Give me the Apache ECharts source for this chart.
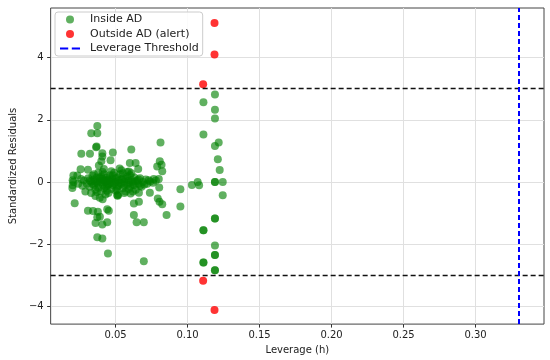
<!DOCTYPE html>
<html>
<head>
<meta charset="utf-8">
<script src="https://cdn.jsdelivr.net/npm/echarts@6/dist/echarts.min.js"></script>
<style>html,body{margin:0;padding:0;background:#fff}#c{width:550px;height:360px}</style>
</head>
<body>
<div id="c"></div>
<script>
// ---- data ----
const insideAD = [
  [0.0373,1.80],[0.0331,1.57],[0.0373,1.57],[0.0368,1.14],[0.0365,1.12],
  [0.0262,0.91],[0.0322,0.91],[0.0408,0.93],[0.0408,0.82],[0.0481,0.95],
  [0.0609,1.05],[0.0812,1.27],[0.0465,0.70],[0.0401,0.67],[0.0599,0.61],[0.0639,0.61],
  [0.0807,0.67],[0.0819,0.56],[0.0824,0.35],[0.0789,0.50],[0.0257,0.41],[0.0384,0.53],
  [0.0419,0.42],[0.0308,0.40],[0.0592,0.34],[0.0528,0.44],[0.0657,0.42],[0.0207,0.21],
  [0.0234,0.21],[0.0207,0.00],[0.0200,-0.19],[0.0202,-0.10],[0.0202,0.06],
  [0.0765,0.10],[0.0800,0.10],
  [0.0216,-0.68],[0.0308,-0.92],[0.0343,-0.93],[0.0377,-0.95],[0.0442,-0.87],[0.0453,-0.92],
  [0.0373,-1.13],[0.0391,-1.11],[0.0361,-1.31],[0.0408,-1.36],[0.0442,-1.29],[0.0373,-1.77],
  [0.0408,-1.81],[0.0447,-2.29],[0.0696,-2.54],[0.0627,-1.06],[0.0646,-1.29],[0.0696,-1.29],
  [0.0662,-0.63],[0.0627,-0.69],[0.0604,-0.37],[0.0662,-0.34],[0.0738,-0.34],[0.0793,-0.53],
  [0.0805,-0.63],[0.0824,-0.71],[0.0854,-1.06],[0.0512,-0.42],[0.0514,-0.44],[0.0803,-0.17],
  [0.0950,-0.23],[0.0950,-0.78],
  [0.1030,-0.09],[0.1070,0.00],[0.1080,-0.10],
  [0.1110,2.56],[0.1190,2.81],[0.1190,2.32],[0.1190,2.04],[0.1110,1.53],[0.1190,1.16],
  [0.1216,1.27],[0.1210,0.73],[0.1223,0.39],[0.1190,0.00],[0.1190,0.00],[0.1244,0.00],
  [0.1244,-0.42],[0.1190,-1.17],[0.1190,-1.17],[0.1110,-1.55],[0.1110,-1.55],[0.1190,-2.04],
  [0.1190,-2.34],[0.1190,-2.34],[0.1110,-2.58],[0.1110,-2.58],[0.1190,-2.83],[0.1190,-2.83],
  [0.028,0.05],[0.030,-0.05],[0.031,0.12],[0.032,-0.15],[0.033,0.02],[0.034,0.20],[0.035,-0.10],
  [0.035,0.08],[0.036,-0.25],[0.037,0.15],[0.037,-0.02],[0.038,0.30],[0.038,-0.18],[0.039,0.05],
  [0.040,-0.30],[0.040,0.18],[0.041,-0.08],[0.041,0.10],[0.042,0.25],[0.042,-0.20],[0.043,0.00],
  [0.044,-0.12],[0.044,0.14],[0.045,-0.35],[0.045,0.06],[0.046,0.22],[0.046,-0.05],[0.047,-0.22],
  [0.048,0.10],[0.048,-0.10],[0.049,0.30],[0.050,0.00],[0.050,-0.28],[0.051,0.15],[0.052,-0.12],
  [0.052,0.05],[0.053,0.25],[0.054,-0.05],[0.055,0.12],[0.055,-0.20],[0.056,0.02],[0.057,-0.30],
  [0.058,0.18],[0.058,-0.08],[0.059,0.05],[0.060,-0.15],[0.061,0.28],[0.062,0.00],[0.063,-0.10],
  [0.063,0.15],[0.064,-0.25],[0.065,0.05],[0.066,-0.05],[0.067,0.12],[0.068,-0.15],[0.069,0.00],
  [0.071,0.08],[0.072,-0.05],[0.074,0.02],[0.076,-0.02],[0.078,0.05],[0.033,-0.35],[0.036,-0.45],
  [0.039,-0.50],[0.041,-0.55],[0.043,-0.40],[0.029,-0.30],[0.027,-0.12],[0.026,0.10],[0.024,-0.05],
  [0.047,0.35],[0.054,0.38],[0.058,0.32],[0.060,0.22],[0.052,-0.40],[0.056,-0.35],[0.062,-0.30],
  [0.032,0.05],[0.034,-0.05],[0.036,0.02],[0.038,-0.08],[0.039,0.12],[0.040,0.00],[0.042,0.06],
  [0.043,-0.15],[0.044,0.04],[0.045,-0.08],[0.046,0.10],[0.047,0.00],[0.049,-0.05],[0.050,0.12],
  [0.051,-0.15],[0.053,-0.02],[0.054,0.08],[0.056,-0.10],[0.057,0.10],[0.059,-0.02],[0.061,0.06],
  [0.062,-0.08],[0.064,0.02],[0.066,0.08],[0.067,-0.12],[0.070,-0.08],[0.073,0.06],[0.035,0.25],
  [0.037,-0.32],[0.041,0.32],[0.044,-0.28],[0.048,0.22],[0.051,-0.25],[0.055,0.28],[0.059,-0.22]
];
const outsideAD = [[0.1187,5.11],[0.1187,4.10],[0.1108,3.14],[0.1108,-3.17],[0.1187,-4.11]];
const leverageThreshold = 0.3333;
const residualLimits = [3, -3];
const xTicks = [0.05, 0.10, 0.15, 0.20, 0.25, 0.30];
const yTicks = [-4, -2, 0, 2, 4];

const FONT = 'DejaVu Sans';
const chart = echarts.init(document.getElementById('c'), null, {renderer: 'canvas'});
chart.setOption({
  animation: false,
  backgroundColor: '#fff',
  textStyle: {fontFamily: FONT},
  grid: {left: 50, right: 6, top: 8, bottom: 33, show: true, borderColor: '#444', borderWidth: 1},
  xAxis: {
    type: 'value', min: 0.0049, max: 0.3475,
    name: 'Leverage (h)', nameLocation: 'middle', nameGap: 18,
    nameTextStyle: {fontSize: 10, color: '#222', fontFamily: FONT},
    axisLine: {show: false, onZero: false},
    axisTick: {show: true, length: 3.5, inside: false, customValues: xTicks, lineStyle: {color: '#333'}},
    axisLabel: {customValues: xTicks, fontSize: 10, color: '#222', margin: 6, fontFamily: FONT,
      formatter: v => v.toFixed(2)},
    splitLine: {show: true, lineStyle: {color: '#e0e0e0', width: 1}}
  },
  yAxis: {
    type: 'value', min: -4.56, max: 5.59,
    name: 'Standardized Residuals', nameLocation: 'middle', nameGap: 29, nameRotate: 90,
    nameTextStyle: {fontSize: 10, color: '#222', fontFamily: FONT},
    axisLine: {show: false, onZero: false},
    axisTick: {show: true, length: 3.5, customValues: yTicks, lineStyle: {color: '#333'}},
    axisLabel: {customValues: yTicks, fontSize: 10, color: '#222', margin: 7, fontFamily: FONT,
      formatter: v => (v < 0 ? '\u2212' + Math.abs(v) : String(v))},
    splitLine: {show: true, lineStyle: {color: '#e0e0e0', width: 1}}
  },
  legend: {
    left: 55, top: 12, orient: 'vertical',
    backgroundColor: 'rgba(255,255,255,0.85)', borderColor: '#ccc', borderWidth: 1, borderRadius: 3,
    padding: [2, 4, 2, 5], itemWidth: 20, itemHeight: 8, itemGap: 3.5,
    textStyle: {fontSize: 11, color: '#222', fontFamily: FONT, lineHeight: 10, padding: [0, 0, 0, 5]},
    data: [
      {name: 'Inside AD', icon: 'circle'},
      {name: 'Outside AD (alert)', icon: 'circle'},
      {name: 'Leverage Threshold', icon: 'path://M0,0h8v2h-8z M11.5,0h8v2h-8z'}
    ]
  },
  series: [
    {
      name: 'Inside AD', type: 'scatter', data: insideAD, symbolSize: 8, z: 2,
      itemStyle: {color: 'rgba(0,128,0,0.78)'}
    },
    {
      name: 'Outside AD (alert)', type: 'scatter', data: outsideAD, symbolSize: 8, z: 2,
      itemStyle: {color: '#ff0000'},
      markLine: {
        silent: true, symbol: ['none', 'none'], label: {show: false}, z: 3,
        lineStyle: {color: '#111', type: [5, 3], width: 1.4},
        data: residualLimits.map(v => ({yAxis: v}))
      }
    },
    {
      name: 'Leverage Threshold', type: 'line', data: [], color: '#0000ff',
      lineStyle: {color: '#0000ff', type: [5, 3], width: 2},
      markLine: {
        silent: true, symbol: ['none', 'none'], label: {show: false}, z: 3,
        lineStyle: {color: '#0000ff', type: [5, 3], width: 2},
        data: [{xAxis: leverageThreshold}]
      }
    }
  ]
});
</script>
</body>
</html>
